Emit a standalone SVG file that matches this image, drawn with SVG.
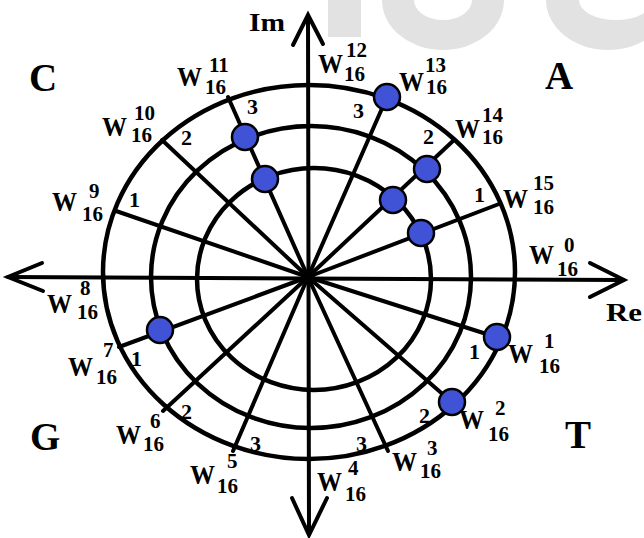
<svg xmlns="http://www.w3.org/2000/svg" width="644" height="538" viewBox="0 0 644 538">
<style>
.ln{stroke:#000;stroke-width:4;fill:none;stroke-linecap:round;stroke-linejoin:round}
.ax{stroke:#000;stroke-width:4;fill:none;stroke-linecap:round;stroke-linejoin:miter}
.ring{stroke:#000;stroke-width:4.5;fill:none}
.dot{fill:#4052d6;stroke:#000;stroke-width:2.5}
.wm{fill:#e2e2e2;fill-rule:evenodd}
text{font-family:"Liberation Serif","Times New Roman",serif;font-weight:bold;fill:#000}
.w{font-size:28px}
.d{font-size:21px}
.n{font-size:22px}
.q{font-size:39px}
.ax-t{font-size:25px}
</style>
<rect width="644" height="538" fill="#fff"/>
<g id="watermark">
<rect class="wm" x="328" y="0" width="33" height="37"/>
<path class="wm" d="M382,0 A61,50 0 0 0 504,0 L472,0 A29,20 0 0 1 414,0 Z"/>
<path class="wm" d="M546,0 A62,50 0 0 0 670,0 L653,0 A37,20 0 0 1 579,0 Z"/>
</g>
<g id="rings">
<ellipse class="ring" cx="309" cy="272" rx="206" ry="187"/>
<ellipse class="ring" cx="311" cy="277" rx="160" ry="151"/>
<ellipse class="ring" cx="314" cy="279" rx="117" ry="111"/>
</g>
<g id="connectors">
<g id="axes">
<line class="ax" x1="8" y1="277" x2="623" y2="280"/>
<line class="ax" x1="308" y1="16" x2="309" y2="534"/>
<polyline class="ax" points="42,263 8,277 43,291"/>
<polyline class="ax" points="590,263 624,280 590,297"/>
<polyline class="ax" points="293,45 308,15 323,44"/>
<polyline class="ax" points="292,498 309,535 327,498"/>
</g>
<g id="spokes">
<line class="ln" x1="308" y1="277" x2="499" y2="338"/>
<line class="ln" x1="308" y1="277" x2="454" y2="404"/>
<line class="ln" x1="308" y1="277" x2="388" y2="451"/>
<line class="ln" x1="308" y1="277" x2="233" y2="451"/>
<line class="ln" x1="308" y1="277" x2="163" y2="411"/>
<line class="ln" x1="308" y1="277" x2="119" y2="347"/>
<line class="ln" x1="308" y1="277" x2="116" y2="211"/>
<line class="ln" x1="308" y1="277" x2="162" y2="140"/>
<line class="ln" x1="308" y1="277" x2="228" y2="97"/>
<line class="ln" x1="308" y1="277" x2="387" y2="97"/>
<line class="ln" x1="308" y1="277" x2="454" y2="140"/>
<line class="ln" x1="308" y1="277" x2="499" y2="204"/>
</g>
<circle cx="308" cy="277" r="7" fill="#000"/>
</g>
<g id="dots">
<circle id="dot1" class="dot" cx="245" cy="137" r="13"/>
<circle id="dot2" class="dot" cx="265" cy="179" r="13"/>
<circle id="dot3" class="dot" cx="387" cy="97" r="13"/>
<circle id="dot4" class="dot" cx="427" cy="169" r="13"/>
<circle id="dot5" class="dot" cx="393" cy="200" r="13"/>
<circle id="dot6" class="dot" cx="421" cy="233" r="13"/>
<circle id="dot7" class="dot" cx="160" cy="330" r="13"/>
<circle id="dot8" class="dot" cx="497" cy="337" r="13"/>
<circle id="dot9" class="dot" cx="452" cy="402" r="13"/>
</g>
<g id="axis-labels">
<text class="ax-t" x="249" y="31" textLength="36" lengthAdjust="spacingAndGlyphs">Im</text>
<text class="ax-t" x="606" y="321" textLength="36" lengthAdjust="spacingAndGlyphs">Re</text>
</g>
<g id="quadrants">
<text class="q" x="29" y="91">C</text>
<text class="q" x="545" y="89">A</text>
<text class="q" x="30" y="450">G</text>
<text class="q" x="565" y="448">T</text>
</g>
<g id="ring-numbers">
<text class="n" x="129" y="207">1</text>
<text class="n" x="181" y="145">2</text>
<text class="n" x="247" y="114">3</text>
<text class="n" x="353" y="118">3</text>
<text class="n" x="423" y="144">2</text>
<text class="n" x="474" y="202">1</text>
<text class="n" x="469" y="359">1</text>
<text class="n" x="419" y="423">2</text>
<text class="n" x="356" y="451">3</text>
<text class="n" x="250" y="451">3</text>
<text class="n" x="181" y="419">2</text>
<text class="n" x="131" y="366">1</text>
</g>
<g id="w0"><text class="w" x="529" y="264" textLength="25" lengthAdjust="spacingAndGlyphs">W</text><text class="d" x="564" y="252">0</text><text class="d" x="557" y="276">16</text></g>
<g id="w1"><text class="w" x="508" y="363" textLength="25" lengthAdjust="spacingAndGlyphs">W</text><text class="d" x="544" y="348">1</text><text class="d" x="539" y="373">16</text></g>
<g id="w2"><text class="w" x="459" y="429" textLength="25" lengthAdjust="spacingAndGlyphs">W</text><text class="d" x="495" y="415">2</text><text class="d" x="488" y="441">16</text></g>
<g id="w3"><text class="w" x="392" y="471" textLength="25" lengthAdjust="spacingAndGlyphs">W</text><text class="d" x="427" y="455">3</text><text class="d" x="420" y="478">16</text></g>
<g id="w4"><text class="w" x="317" y="491" textLength="25" lengthAdjust="spacingAndGlyphs">W</text><text class="d" x="348" y="475">4</text><text class="d" x="345" y="501">16</text></g>
<g id="w5"><text class="w" x="190" y="484" textLength="25" lengthAdjust="spacingAndGlyphs">W</text><text class="d" x="227" y="468">5</text><text class="d" x="217" y="493">16</text></g>
<g id="w6"><text class="w" x="116" y="444" textLength="25" lengthAdjust="spacingAndGlyphs">W</text><text class="d" x="150" y="428">6</text><text class="d" x="143" y="451">16</text></g>
<g id="w7"><text class="w" x="68" y="376" textLength="25" lengthAdjust="spacingAndGlyphs">W</text><text class="d" x="103" y="357">7</text><text class="d" x="96" y="384">16</text></g>
<g id="w8"><text class="w" x="47" y="313" textLength="25" lengthAdjust="spacingAndGlyphs">W</text><text class="d" x="80" y="295">8</text><text class="d" x="77" y="319">16</text></g>
<g id="w9"><text class="w" x="52" y="211" textLength="25" lengthAdjust="spacingAndGlyphs">W</text><text class="d" x="89" y="198">9</text><text class="d" x="82" y="221">16</text></g>
<g id="w10"><text class="w" x="102" y="136" textLength="25" lengthAdjust="spacingAndGlyphs">W</text><text class="d" x="134" y="120">10</text><text class="d" x="131" y="142">16</text></g>
<g id="w11"><text class="w" x="177" y="86" textLength="25" lengthAdjust="spacingAndGlyphs">W</text><text class="d" x="209" y="72">11</text><text class="d" x="205" y="94">16</text></g>
<g id="w12"><text class="w" x="318" y="73" textLength="25" lengthAdjust="spacingAndGlyphs">W</text><text class="d" x="346" y="57">12</text><text class="d" x="344" y="81">16</text></g>
<g id="w13"><text class="w" x="399" y="91" textLength="25" lengthAdjust="spacingAndGlyphs">W</text><text class="d" x="425" y="72">13</text><text class="d" x="426" y="94">16</text></g>
<g id="w14"><text class="w" x="455" y="138" textLength="25" lengthAdjust="spacingAndGlyphs">W</text><text class="d" x="482" y="122">14</text><text class="d" x="482" y="144">16</text></g>
<g id="w15"><text class="w" x="503" y="208" textLength="25" lengthAdjust="spacingAndGlyphs">W</text><text class="d" x="533" y="190">15</text><text class="d" x="533" y="214">16</text></g>
</svg>
